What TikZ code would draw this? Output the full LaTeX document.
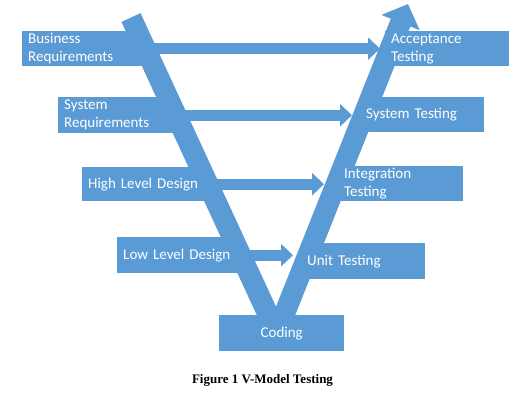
\documentclass[tikz,border=0pt]{standalone}
\usepackage{fontspec}
\setmainfont{Carlito}
\newfontfamily\capfont{Liberation Serif}
\usetikzlibrary{arrows.meta, backgrounds}
\definecolor{vblue}{RGB}{91,155,213}
\tikzset{
	stage/.style={fill=vblue, text=white, anchor=north west, inner xsep=6pt, inner ysep=0pt,
		align=left, font=\fontsize{15}{18}\selectfont},
	arm/.style={draw=vblue, line width=21pt},
	flow/.style={draw=vblue, line width=11pt, -{Triangle[width=22pt, length=12pt]}}
}
\begin{document}
\begin{tikzpicture}[x=1pt, y=-1pt]
		% Page window
		\def\W{532} \def\H{402}
		\useasboundingbox (0,0) rectangle (\W,\H);
		
		% Design stages (left side of the V)
		\foreach \n/\x/\y/\w/\h/\t in {br/22/31/111/35/{Business\\Requirements},
			sr/58/97/106/36/{System\\Requirements}, hl/82/167/113/34/{High Level Design},
			ll/117/237/111/36/{Low Level Design}} {
			\node[stage, text width=\w pt, minimum height=\h pt] (\n) at (\x,\y) {\t};
		}
		
		% Testing stages (right side of the V)
		\foreach \n/\x/\y/\w/\h/\t in {at/385/31/112/35/{Acceptance\\Testing},
			st/360/97/112/35/{System Testing}, it/338/166/113/35/{Integration\\Testing},
			ut/301/243/112/36/{Unit Testing}} {
			\node[stage, text width=\w pt, minimum height=\h pt] (\n) at (\x,\y) {\t};
		}
		
		% Bottom of the V
		\node[stage, minimum width=125pt, minimum height=36pt] (cod) at (219,315) {Coding};
		
		% Caption
		\node[font=\capfont\bfseries\fontsize{13}{15}\selectfont] (cap) at (262.5,380)
		{Figure 1 V-Model Testing};
		
		% Arms of the V and links between stages (behind the boxes)
		\begin{scope}[on background layer]
			\coordinate (lt) at (131,17.5);
			\coordinate (rt) at (408,4);
			\coordinate (vb) at ([xshift=-5pt]cod.center);
			\draw[arm] (lt) -- (vb);
			\draw[arm, -{Triangle[width=40pt, length=20pt]}] (vb) -- (rt);
			\foreach \a/\b/\s in {br/at/5, sr/st/8, hl/it/14, ll/ut/8} {
				\draw[flow, shorten >=\s pt] (\a.east) -- (\a.east -| \b.west);
			}
		\end{scope}
	\end{tikzpicture}
\end{document}
